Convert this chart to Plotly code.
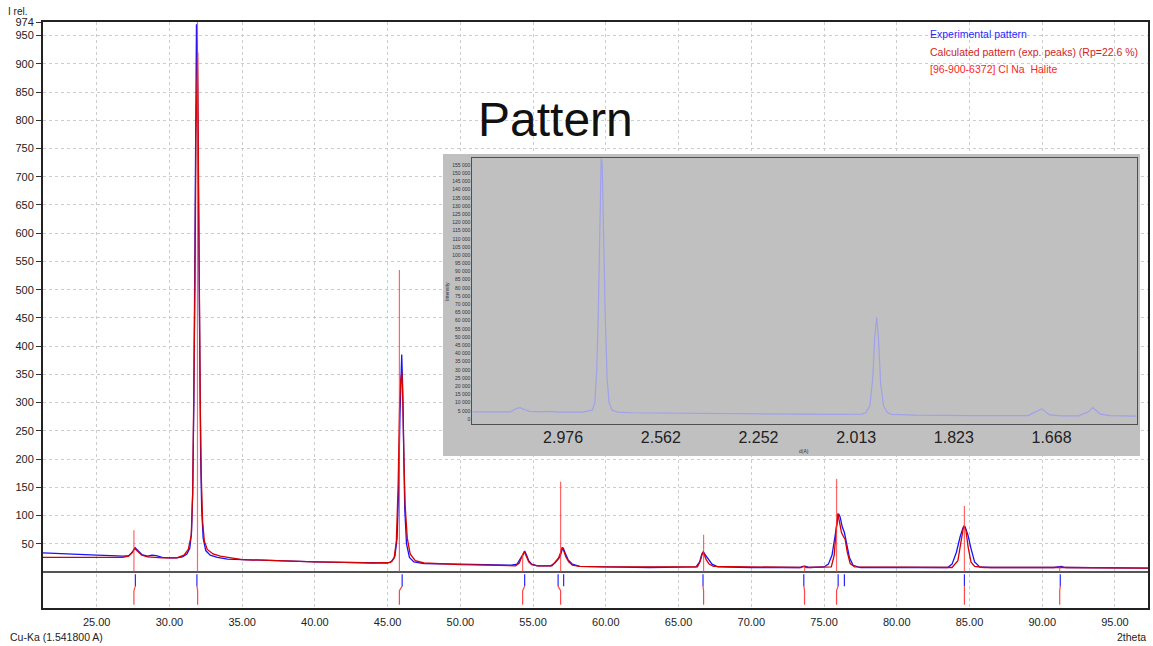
import plotly.graph_objects as go

W, H = 1153, 646
def px(x): return x / W
def py(y): return 1 - y / H

# ---------------- main chart data (2theta, I rel.) ----------------
exp_2theta = [21.31, 22.0, 23.0, 24.0, 25.0, 26.0, 26.8, 27.2, 27.45, 27.65, 27.85, 28.1, 28.5, 28.8, 29.1, 29.5,
              30.0, 30.5, 30.9, 31.2, 31.4, 31.52, 31.6, 31.68, 31.75, 31.81, 31.86, 31.91, 31.97, 32.03, 32.09,
              32.15, 32.22, 32.32, 32.5, 32.8, 33.3, 34.0, 35.0, 36.0, 38.0, 40.0, 42.0, 44.0, 45.0, 45.3, 45.5,
              45.65, 45.75, 45.85, 45.92, 45.97, 46.03, 46.1, 46.18, 46.3, 46.5, 46.8, 47.5, 50.0, 53.5, 53.9,
              54.1, 54.2, 54.3, 54.42, 54.55, 54.7, 54.9, 55.3, 56.2, 56.5, 56.7, 56.85, 57.0, 57.08, 57.2, 57.4,
              57.7, 58.2, 60.0, 63.0, 66.2, 66.45, 66.6, 66.7, 66.85, 67.05, 67.3, 67.7, 70.0, 73.3, 73.55,
              73.75, 74.0, 75.0, 75.3, 75.55, 75.75, 75.9, 76.0, 76.1, 76.25, 76.4, 76.55, 76.75, 77.0, 77.5,
              80.0, 83.5, 83.8, 84.1, 84.35, 84.55, 84.7, 84.9, 85.1, 85.35, 85.7, 86.5, 90.8, 91.1, 91.3, 91.6,
              97.27]
exp_int = [34, 33, 32, 31, 30, 29, 28, 29, 35, 43, 38, 31, 28, 30, 29, 26,
           25, 25, 27, 32, 42, 70, 140, 300, 560, 850, 970, 930, 720, 525, 340,
           200, 110, 60, 38, 30, 26, 23, 22, 21, 19, 18, 17, 16, 16, 19, 28,
           60, 140, 280, 370, 385, 330, 220, 110, 50, 26, 18, 15, 14, 12, 14,
           24, 27, 30, 37, 30, 20, 14, 11, 11, 16, 22, 27, 40, 42, 34, 22,
           14, 10, 9, 8, 9, 18, 32, 36, 30, 22, 14, 9, 8, 8, 10,
           10, 8, 9, 14, 30, 65, 92, 103, 98, 80, 70, 50, 25, 12, 8,
           8, 8, 14, 35, 62, 78, 80, 65, 42, 18, 9, 8, 8, 10, 10, 8,
           7]

calc_2theta = [21.31, 23.0, 25.0, 26.8, 27.2, 27.45, 27.6, 27.8, 28.1, 28.5, 29.5, 30.5, 31.0, 31.3, 31.5, 31.6,
               31.68, 31.76, 31.82, 31.88, 31.94, 32.0, 32.06, 32.12, 32.19, 32.28, 32.4, 32.6, 33.0, 33.5, 35.0,
               37.0, 40.0, 42.0, 44.0, 45.2, 45.45, 45.6, 45.72, 45.82, 45.9, 45.98, 46.05, 46.12, 46.2, 46.35,
               46.55, 46.9, 47.5, 50.0, 53.8, 54.05, 54.2, 54.3, 54.4, 54.55, 54.7, 54.9, 55.3, 56.3, 56.55,
               56.75, 56.9, 57.0, 57.1, 57.25, 57.45, 57.7, 58.2, 60.0, 66.3, 66.5, 66.65, 66.75, 66.9, 67.1,
               67.4, 70.0, 73.4, 73.6, 73.8, 75.5, 75.7, 75.85, 75.95, 76.05, 76.2, 76.35, 76.45, 76.6, 76.8,
               77.1, 83.8, 84.2, 84.45, 84.6, 84.75, 84.9, 85.1, 85.35, 86.0, 91.0, 91.2, 91.4, 97.27]
calc_int = [26, 26, 26, 26, 28, 35, 42, 37, 30, 27, 25, 25, 30, 40, 65, 140,
            300, 520, 770, 880, 920, 700, 450, 300, 170, 90, 55, 40, 32, 28, 22,
            20, 18, 17, 16, 17, 25, 55, 150, 290, 340, 355, 300, 200, 120, 60,
            32, 20, 16, 13, 11, 16, 28, 32, 36, 28, 18, 13, 11, 11, 18,
            25, 35, 44, 38, 27, 18, 12, 10, 9, 9, 20, 34, 32, 22, 14,
            10, 9, 8, 10, 8, 9, 30, 80, 104, 90, 70, 62, 58, 35, 15,
            9, 8, 20, 60, 82, 75, 45, 18, 10, 8, 8, 9, 8, 7]

# calculated peak sticks
stick_pos = [27.56, 31.93, 45.81, 54.28, 56.89, 66.72, 73.66, 75.86, 84.65, 91.20]
stick_int = [74, 1000, 535, 32, 160, 66, 12, 165, 117, 10]

# peak position markers below the baseline
exp_peak_pos = [27.66, 31.89, 46.00, 54.42, 56.72, 57.10, 66.68, 73.61, 75.97, 76.40, 84.65, 91.24]
ref_peak_pos = [27.56, 31.94, 45.81, 54.28, 56.89, 66.72, 73.66, 75.86, 84.65, 91.20]
matched_exp = [27.66, 31.89, 46.00, 54.42, 56.72, 66.68, 73.61, 75.97, 84.65, 91.24]

main_x_ticks = [25, 30, 35, 40, 45, 50, 55, 60, 65, 70, 75, 80, 85, 90, 95]
main_x_labels = ["25.00", "30.00", "35.00", "40.00", "45.00", "50.00", "55.00", "60.00", "65.00",
                 "70.00", "75.00", "80.00", "85.00", "90.00", "95.00"]
main_y_ticks = [50, 100, 150, 200, 250, 300, 350, 400, 450, 500, 550, 600, 650, 700, 750, 800, 850,
                900, 950, 974]

# ---------------- inset data (2theta, counts) ----------------
inset_2theta = [25.35, 26.5, 27.3, 27.6, 27.8, 28.0, 28.3, 28.8, 29.3, 29.8, 30.5, 31.0, 31.3, 31.5, 31.62,
                31.72, 31.8, 31.88, 31.95, 32.0, 32.08, 32.15, 32.25, 32.35, 32.5, 32.8, 33.5, 35.0, 38.0,
                41.0, 44.0, 45.3, 45.5, 45.7, 45.85, 45.95, 46.05, 46.15, 46.25, 46.4, 46.6, 46.8, 48.0,
                51.0, 53.8, 54.05, 54.2, 54.35, 54.5, 54.65, 54.9, 55.5, 56.4, 56.65, 56.85, 57.0, 57.1,
                57.25, 57.5, 58.0, 59.36]
inset_counts = [4300, 4300, 4400, 6400, 6900, 5800, 4700, 4400, 4600, 4200, 4000, 4200, 5000, 5500, 10000,
                30000, 65000, 120000, 160000, 155000, 100000, 65000, 25000, 10000, 5500, 4200, 3800, 3600, 3300,
                3000, 2800, 3000, 4000, 8000, 25000, 50000, 62000, 48000, 22000, 8000, 4000, 2800, 2300,
                2100, 2100, 3600, 4600, 5400, 6200, 4800, 2500, 1900, 1900, 3300, 4000, 5700, 7000,
                5500, 3000, 2000, 1700]
inset_x_ticks = [30, 35, 40, 45, 50, 55]
inset_x_labels = ["2.976", "2.562", "2.252", "2.013", "1.823", "1.668"]
inset_y_ticks = [0, 5000, 10000, 15000, 20000, 25000, 30000, 35000, 40000, 45000, 50000, 55000, 60000,
                 65000, 70000, 75000, 80000, 85000, 90000, 95000, 100000, 105000, 110000, 115000, 120000,
                 125000, 130000, 135000, 140000, 145000, 150000, 155000]
inset_y_labels = ["0" if v == 0 else f"{v // 1000} 000" for v in inset_y_ticks]

# ---------------- styles ----------------
BLUE = "rgb(20,20,255)"
RED = "rgb(215,0,0)"
FONT = "Liberation Sans, Arial"
MARK_B_TOP, MARK_B_BOT = -4, -25
MARK_R_TOP, MARK_R_BOT = -33, -58

fig = go.Figure()

fig.add_trace(go.Scatter(x=exp_2theta, y=exp_int, mode="lines", line=dict(color=BLUE, width=1.3),
                         xaxis="x", yaxis="y", showlegend=False))
fig.add_trace(go.Scatter(x=calc_2theta, y=calc_int, mode="lines", line=dict(color=RED, width=1.3),
                         xaxis="x", yaxis="y", showlegend=False))

sx, sy = [], []
for p, h in zip(stick_pos, stick_int):
    sx += [p, p, None]
    sy += [0, h, None]
fig.add_trace(go.Scatter(x=sx, y=sy, mode="lines", line=dict(color="rgba(255,50,50,0.75)", width=1.2),
                         xaxis="x", yaxis="y", showlegend=False))

bx, by = [], []
for p in exp_peak_pos:
    bx += [p, p, None]
    by += [MARK_B_TOP, MARK_B_BOT, None]
fig.add_trace(go.Scatter(x=bx, y=by, mode="lines", line=dict(color="rgb(40,40,255)", width=1.2),
                         xaxis="x", yaxis="y", showlegend=False))

rx, ry = [], []
for pe, pr in zip(matched_exp, ref_peak_pos):
    rx += [pe, pr, pr, None]
    ry += [MARK_B_BOT, MARK_R_TOP, MARK_R_BOT, None]
fig.add_trace(go.Scatter(x=rx, y=ry, mode="lines", line=dict(color="rgb(255,70,70)", width=1.2),
                         xaxis="x", yaxis="y", showlegend=False))

# inset gray background (subplot x2/y2)
fig.add_trace(go.Scatter(x=[0, 1, 1, 0, 0], y=[0, 0, 1, 1, 0], mode="lines", fill="toself",
                         fillcolor="rgb(192,192,192)", line=dict(width=0), hoverinfo="skip",
                         xaxis="x2", yaxis="y2", showlegend=False))
# inset pattern (subplot x3/y3)
fig.add_trace(go.Scatter(x=inset_2theta, y=inset_counts, mode="lines",
                         line=dict(color="rgb(160,160,235)", width=1.2),
                         xaxis="x3", yaxis="y3", showlegend=False))

fig.update_layout(
    width=W, height=H, autosize=False,
    margin=dict(l=0, r=0, t=0, b=0, pad=0, autoexpand=False),
    paper_bgcolor="white", plot_bgcolor="rgba(0,0,0,0)",
    font=dict(family=FONT, size=11, color="#222"),
    xaxis=dict(domain=[px(43), px(1148)], anchor="y", range=[21.31, 97.27], automargin=False,
               tickmode="array", tickvals=main_x_ticks, ticktext=main_x_labels,
               showgrid=True, gridcolor="#cccccc", griddash="dot", gridwidth=1,
               showline=True, mirror=True, linecolor="#222", linewidth=1.5,
               ticks="outside", ticklen=3, tickcolor="rgba(0,0,0,0)",
               tickfont=dict(family=FONT, size=11, color="#222"), zeroline=False),
    yaxis=dict(domain=[py(608), py(22)], anchor="x", range=[-63.7, 974], automargin=False,
               tickmode="array", tickvals=main_y_ticks, ticktext=[str(v) for v in main_y_ticks],
               showgrid=True, gridcolor="#cccccc", griddash="dot", gridwidth=1,
               showline=True, mirror=True, linecolor="#222", linewidth=2,
               ticks="outside", ticklen=5, tickcolor="#333",
               tickfont=dict(family=FONT, size=11, color="#222"),
               zeroline=True, zerolinecolor="#555", zerolinewidth=2),
    xaxis2=dict(domain=[px(443), px(1140)], anchor="y2", range=[0, 1], visible=False,
                fixedrange=True, automargin=False),
    yaxis2=dict(domain=[py(456), py(154)], anchor="x2", range=[0, 1], visible=False,
                fixedrange=True, automargin=False),
    xaxis3=dict(domain=[px(472.3), px(1136.7)], anchor="y3", range=[25.35, 59.36], automargin=False,
                tickmode="array", tickvals=inset_x_ticks, ticktext=inset_x_labels,
                tickfont=dict(family=FONT, size=16, color="#222"), ticklabelstandoff=-2,
                showgrid=False, zeroline=False, showline=True, mirror=True,
                linecolor="#505050", linewidth=1, ticks=""),
    yaxis3=dict(domain=[py(424.3), py(158.3)], anchor="x3", range=[-3240, 159100], automargin=False,
                tickmode="array", tickvals=inset_y_ticks, ticktext=inset_y_labels,
                tickfont=dict(family=FONT, size=5, color="#333"),
                showgrid=False, zeroline=False, showline=True, mirror=True,
                linecolor="#505050", linewidth=1, ticks=""),
)

ann = [
    dict(text="I rel.", x=px(6), y=py(12), xanchor="left", yanchor="middle",
         font=dict(family=FONT, size=10, color="#222")),
    dict(text="Cu-Ka (1.541800 A)", x=px(8), y=py(637), xanchor="left", yanchor="middle",
         font=dict(family=FONT, size=10.5, color="#222")),
    dict(text="2theta", x=px(1148), y=py(637), xanchor="right", yanchor="middle",
         font=dict(family=FONT, size=10.5, color="#222")),
    dict(text="Experimental pattern", x=px(928), y=py(34), xanchor="left", yanchor="middle",
         font=dict(family=FONT, size=10.5, color="rgb(40,40,255)")),
    dict(text="Calculated pattern (exp. peaks) (Rp=22.6 %)", x=px(928), y=py(52), xanchor="left",
         yanchor="middle", font=dict(family=FONT, size=10.5, color="rgb(210,30,30)")),
    dict(text="[96-900-6372] Cl Na  Halite", x=px(928), y=py(69), xanchor="left", yanchor="middle",
         font=dict(family=FONT, size=10.5, color="rgb(255,30,30)")),
    dict(text="Pattern", x=px(476), y=py(119), xanchor="left", yanchor="middle",
         font=dict(family=FONT, size=48, color="#111")),
    dict(text="Intensity", x=px(447), y=py(291), xanchor="center", yanchor="middle", textangle=-90,
         font=dict(family=FONT, size=5, color="#333")),
    dict(text="d(A)", x=px(804), y=py(451), xanchor="center", yanchor="middle",
         font=dict(family=FONT, size=5, color="#333")),
]
for a in ann:
    a.update(xref="paper", yref="paper", showarrow=False)
fig.update_layout(annotations=ann)

fig.write_html("out.html")
